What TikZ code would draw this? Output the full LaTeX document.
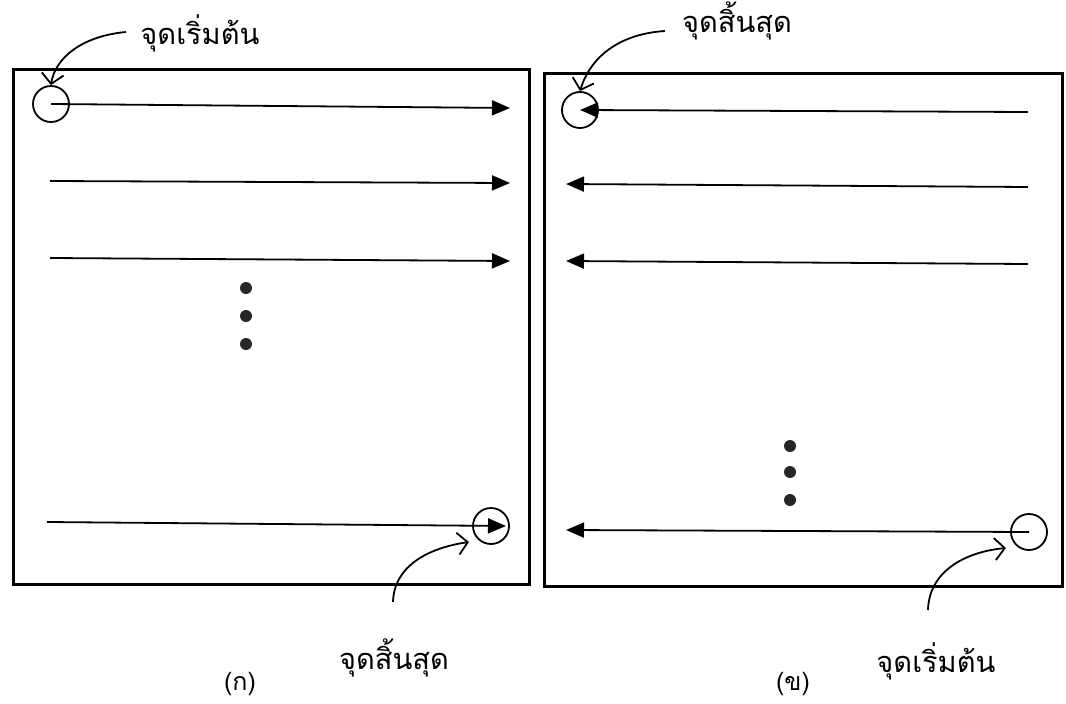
\documentclass[tikz,border=0pt]{standalone}
\usepackage{fontspec}
\newfontfamily\thaifont[Script=Thai]{Loma}
\usetikzlibrary{arrows.meta}
\begin{document}
\begin{tikzpicture}[x=1pt,y=-1pt,
  panel/.style={draw, line width=3.2pt},
  ring/.style={draw, circle, line width=1.8pt, minimum size=36pt, inner sep=0pt},
  scan/.style={line width=1.8pt, -{Triangle[length=18pt,width=15pt]}},
  pointer/.style={line width=1.8pt, -{Straight Barb[length=10pt,width=22pt]}},
  lbl/.style={font=\thaifont\fontsize{29}{34}\selectfont, inner sep=1pt},
  caption/.style={font=\thaifont\fontsize{25}{30}\selectfont, inner sep=1pt},
  dot/.style={fill=black!85, circle, inner sep=0pt, minimum size=12pt}]
\useasboundingbox (0,0) rectangle (1066,704);
% ---------- left panel ----------
\node[panel, minimum width=516pt, minimum height=515pt, anchor=north west] (boxA) at (12,68) {};
\node[ring] (startA) at (51,104) {};
\coordinate (a1e) at (510,108);
\draw[scan] (startA.center) -- (a1e);
\coordinate (a2s) at (50,181); \coordinate (a2e) at (510,183);
\draw[scan] (a2s) -- (a2e);
\coordinate (a3s) at (50,258); \coordinate (a3e) at (510,261);
\draw[scan] (a3s) -- (a3e);
\node[dot] (dA1) at (246,288) {};
\node[dot] (dA2) at (246,316) {};
\node[dot] (dA3) at (246,344) {};
\node[ring] (endA) at (491,526) {};
\coordinate (a4s) at (47,522); \coordinate (a4e) at (506,526);
\draw[scan] (a4s) -- (a4e);
\node[lbl] (lblA1) at (200,33) {จุดเริ่มต้น};
\coordinate (pA1) at (126,32);
\draw[pointer] (pA1) .. controls (82,36) and (55,58) .. (startA.north);
\node[lbl] (lblA2) at (394,658) {จุดสิ้นสุด};
\coordinate (pA2) at (393,602);
\draw[pointer] (pA2) .. controls (394,566) and (428,548) .. (469,542);
\node[caption] (capA) at (240,684) {(ก)};
% ---------- right panel ----------
\node[panel, minimum width=518pt, minimum height=513pt, anchor=north west] (boxB) at (543,72) {};
\node[ring] (endB) at (580,110) {};
\coordinate (b1s) at (1028,112);
\draw[scan] (b1s) -- (endB.center);
\coordinate (b2s) at (1028,187); \coordinate (b2e) at (566,184);
\draw[scan] (b2s) -- (b2e);
\coordinate (b3s) at (1028,264); \coordinate (b3e) at (566,261);
\draw[scan] (b3s) -- (b3e);
\node[dot] (dB1) at (790,446) {};
\node[dot] (dB2) at (790,472) {};
\node[dot] (dB3) at (790,500) {};
\node[ring] (startB) at (1029,532) {};
\coordinate (b4e) at (566,530);
\draw[scan] (startB.center) -- (b4e);
\node[lbl] (lblB1) at (737,21) {จุดสิ้นสุด};
\coordinate (pB1) at (665,31);
\draw[pointer] (pB1) .. controls (618,34) and (590,58) .. (endB.north);
\node[lbl] (lblB2) at (936,661) {จุดเริ่มต้น};
\coordinate (pB2) at (928,610);
\draw[pointer] (pB2) .. controls (929,572) and (964,552) .. (1006,548);
\node[caption] (capB) at (793,684) {(ข)};
\end{tikzpicture}
\end{document}
